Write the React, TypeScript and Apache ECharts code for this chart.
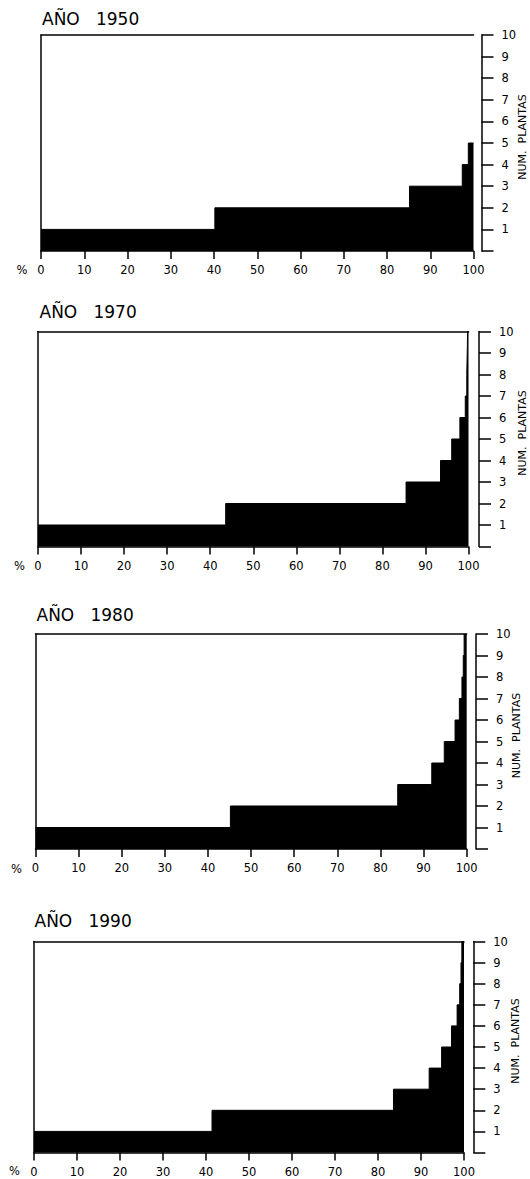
import React, { useEffect, useRef } from "react";
import * as echarts from "echarts";

// ---- data ----
const years = ["1950", "1970", "1980", "1990"];
const xTickStep = 10;
const yMaxPlants = 10;

// cumulative % of farms where the number of plants steps up
const breaks1950 = [0, 40.2, 85.2, 97.4, 98.8];
const plants1950 = [1, 2, 3, 4, 5];

const breaks1970 = [0, 43.6, 85.5, 93.5, 96.1, 98.0, 99.25, 99.6, 99.7, 99.8];
const plants1970 = [1, 2, 3, 4, 5, 6, 7, 8, 9, 10];

const breaks1980 = [0, 45.2, 84.0, 91.9, 94.8, 97.3, 98.3, 98.9, 99.2, 99.4];
const plants1980 = [1, 2, 3, 4, 5, 6, 7, 8, 9, 10];

const breaks1990 = [0, 41.4, 83.6, 91.9, 94.8, 97.1, 98.4, 99.0, 99.3, 99.5];
const plants1990 = [1, 2, 3, 4, 5, 6, 7, 8, 9, 10];

const allBreaks = [breaks1950, breaks1970, breaks1980, breaks1990];
const allPlants = [plants1950, plants1970, plants1980, plants1990];

// ---- layout (positions only) ----
const layout = [
  { left: 41, right: 56.5, top: 35, height: 216, offset: 8, nameGap: 35, titleLeft: 42, titleTop: 10.5, pctX: 22, pctY: 270 },
  { left: 38, right: 61.5, top: 331.5, height: 215, offset: 10.5, nameGap: 37.5, titleLeft: 39.5, titleTop: 303.5, pctX: 19.5, pctY: 566 },
  { left: 35.5, right: 63.3, top: 634, height: 215, offset: 9.3, nameGap: 35, titleLeft: 36.5, titleTop: 606.5, pctX: 16.5, pctY: 869 },
  { left: 34, right: 66, top: 941.5, height: 211, offset: 9.3, nameGap: 36.5, titleLeft: 34.5, titleTop: 912.5, pctX: 14.5, pctY: 1171 },
];

const FONT = "DejaVu Sans";
const INK = "#000";

export default function App() {
  const ref = useRef<HTMLDivElement>(null);

  useEffect(() => {
    document.body.style.margin = "0";
    if (!ref.current) return;
    const chart = echarts.init(ref.current, undefined, { renderer: "svg" });

    const grid: any[] = [];
    const xAxis: any[] = [];
    const yAxis: any[] = [];
    const series: any[] = [];
    const title: any[] = [];
    const graphic: any[] = [];

    years.forEach((yr, i) => {
      const L = layout[i];
      grid.push({
        left: L.left,
        right: L.right,
        top: L.top,
        height: L.height,
        containLabel: false,
        outerBoundsMode: "none",
      });
      title.push({
        text: `AÑO   ${yr}`,
        left: L.titleLeft,
        top: L.titleTop,
        padding: 0,
        textStyle: { fontFamily: FONT, fontSize: 17, fontWeight: "normal", color: INK },
      });
      graphic.push({
        type: "text",
        x: L.pctX,
        y: L.pctY,
        style: {
          text: "%",
          fontFamily: FONT,
          fontSize: 11.5,
          fill: INK,
          align: "center",
          verticalAlign: "middle",
        },
      });
      // bottom x axis (% scale)
      xAxis.push({
        gridIndex: i,
        type: "value",
        min: 0,
        max: 100,
        interval: xTickStep,
        position: "bottom",
        axisLine: { show: true, onZero: false, lineStyle: { color: INK, width: 1.5 } },
        axisTick: { show: true, inside: false, length: 8, lineStyle: { color: INK, width: 1.5 } },
        axisLabel: { fontFamily: FONT, fontSize: 11.5, color: INK, margin: 13 },
        splitLine: { show: false },
      });
      // top frame line
      xAxis.push({
        gridIndex: i,
        type: "value",
        min: 0,
        max: 100,
        position: "top",
        axisLine: { show: true, onZero: false, lineStyle: { color: INK, width: 1.5 } },
        axisTick: { show: false },
        axisLabel: { show: false },
        splitLine: { show: false },
      });
      // right axis: number of plants
      yAxis.push({
        gridIndex: i,
        type: "value",
        min: 0,
        max: yMaxPlants,
        interval: 1,
        position: "right",
        offset: L.offset,
        axisLine: { show: true, onZero: false, lineStyle: { color: INK, width: 1.5 } },
        axisTick: { show: true, inside: false, length: 12, lineStyle: { color: INK, width: 1.5 } },
        axisLabel: {
          fontFamily: FONT,
          fontSize: 11.5,
          color: INK,
          margin: 20,
          formatter: (v: number) => (v === 0 ? "" : String(v)),
        },
        splitLine: { show: false },
        name: "NUM.  PLANTAS",
        nameLocation: "middle",
        nameRotate: 90,
        nameGap: L.nameGap,
        nameMoveOverlap: false,
        nameTextStyle: { fontFamily: FONT, fontSize: 11, color: INK, padding: [0, 0, 0, 12] },
      });
      // left frame line
      yAxis.push({
        gridIndex: i,
        type: "value",
        min: 0,
        max: yMaxPlants,
        position: "left",
        axisLine: { show: true, onZero: false, lineStyle: { color: INK, width: 1.5 } },
        axisTick: { show: false },
        axisLabel: { show: false },
        splitLine: { show: false },
      });

      const br = allBreaks[i];
      const pl = allPlants[i];
      const data = br.map((x, k) => [x, pl[k]]);
      data.push([100, pl[pl.length - 1]]);
      series.push({
        type: "line",
        xAxisIndex: i * 2,
        yAxisIndex: i * 2,
        step: "end",
        symbol: "none",
        data,
        lineStyle: { color: INK, width: 1 },
        areaStyle: { color: INK, opacity: 1 },
        silent: true,
      });
    });

    chart.setOption({
      animation: false,
      backgroundColor: "#fff",
      title,
      grid,
      xAxis,
      yAxis,
      series,
      graphic,
    });

    return () => chart.dispose();
  }, []);

  return <div ref={ref} style={{ width: 530, height: 1179 }} />;
}
